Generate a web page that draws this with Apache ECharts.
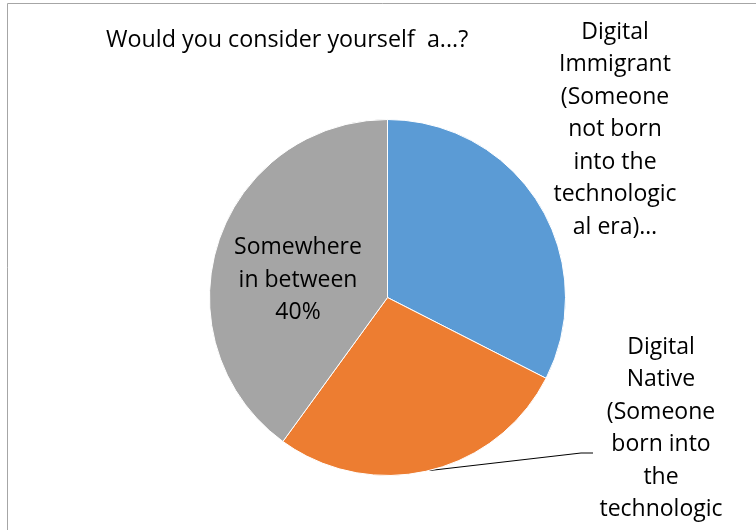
<!DOCTYPE html>
<html>
<head>
<meta charset="utf-8">
<script src="https://cdn.jsdelivr.net/npm/echarts@6/dist/echarts.min.js"></script>
<style>
html,body{margin:0;padding:0;background:#fff;}
#chart{width:756px;height:530px;}
</style>
</head>
<body>
<div id="chart"></div>
<script>
// ---- data ----
var title = 'Would you consider yourself  a...?';
var categories = [
  'Digital Immigrant (Someone not born into the technological era)',
  'Digital Native (Someone born into the technological era)',
  'Somewhere in between'
];
var values = [13, 11, 16];
var colors = ['#5B9BD5', '#ED7D31', '#A5A5A5'];
// label text as wrapped in the picture (Excel cuts long labels with an ellipsis)
var labelLines = [
  ['Digital', 'Immigrant', '(Someone', 'not born', 'into the', 'technologic', 'al era)\u2026'],
  ['Digital', 'Native', '(Someone', 'born into', 'the', 'technologic', 'al era)\u2026'],
  ['Somewhere', 'in between']
];
var showPercent = [false, false, true];

var FONT = '"Open Sans", sans-serif';

var chart = echarts.init(document.getElementById('chart'), null, {renderer: 'canvas'});

var data = categories.map(function (c, i) {
  return {
    name: c,
    value: values[i],
    itemStyle: {color: colors[i]},
    labelLine: {show: i === 1}
  };
});

var labelPos = [
  {x: 615, y: 16, align: 'center', verticalAlign: 'top'},
  {x: 661, y: 331, align: 'center', verticalAlign: 'top'},
  {x: 298, y: 280, align: 'center', verticalAlign: 'middle'}
];

chart.setOption({
  animation: false,
  title: {
    text: title,
    left: 106,
    top: 29,
    padding: 0,
    textStyle: {fontFamily: FONT, fontSize: 23.3, fontWeight: 'normal', color: '#000'}
  },
  graphic: [{
    type: 'rect',
    silent: true,
    shape: {x: 7.5, y: 3.5, width: 800, height: 600},
    style: {fill: 'none', stroke: '#a6a6a6', lineWidth: 1}
  }],
  series: [{
    type: 'pie',
    center: [387.5, 297.5],
    radius: 178,
    startAngle: 90,
    clockwise: true,
    avoidLabelOverlap: false,
    data: data,
    itemStyle: {borderColor: '#fff', borderWidth: 1},
    label: {
      show: true,
      position: 'outside',
      fontFamily: FONT,
      fontSize: 23,
      lineHeight: 32.5,
      color: '#000',
      align: 'center',
      formatter: function (p) {
        var t = labelLines[p.dataIndex].join('\n');
        if (showPercent[p.dataIndex]) t += '\n' + Math.round(p.percent) + '%';
        return t;
      }
    },
    labelLine: {
      show: true,
      length: 20,
      length2: 10,
      smooth: false,
      lineStyle: {color: '#000', width: 1}
    },
    labelLayout: function (params) {
      var i = params.dataIndex;
      var pos = labelPos[i];
      var out = {x: pos.x, y: pos.y, align: pos.align, verticalAlign: pos.verticalAlign};
      if (i === 1 && params.labelLinePoints) {
        var p0 = params.labelLinePoints[0];
        out.labelLinePoints = [[p0[0], p0[1]], [581, 453], [593, 453]];
      }
      return out;
    }
  }]
});
</script>
</body>
</html>
